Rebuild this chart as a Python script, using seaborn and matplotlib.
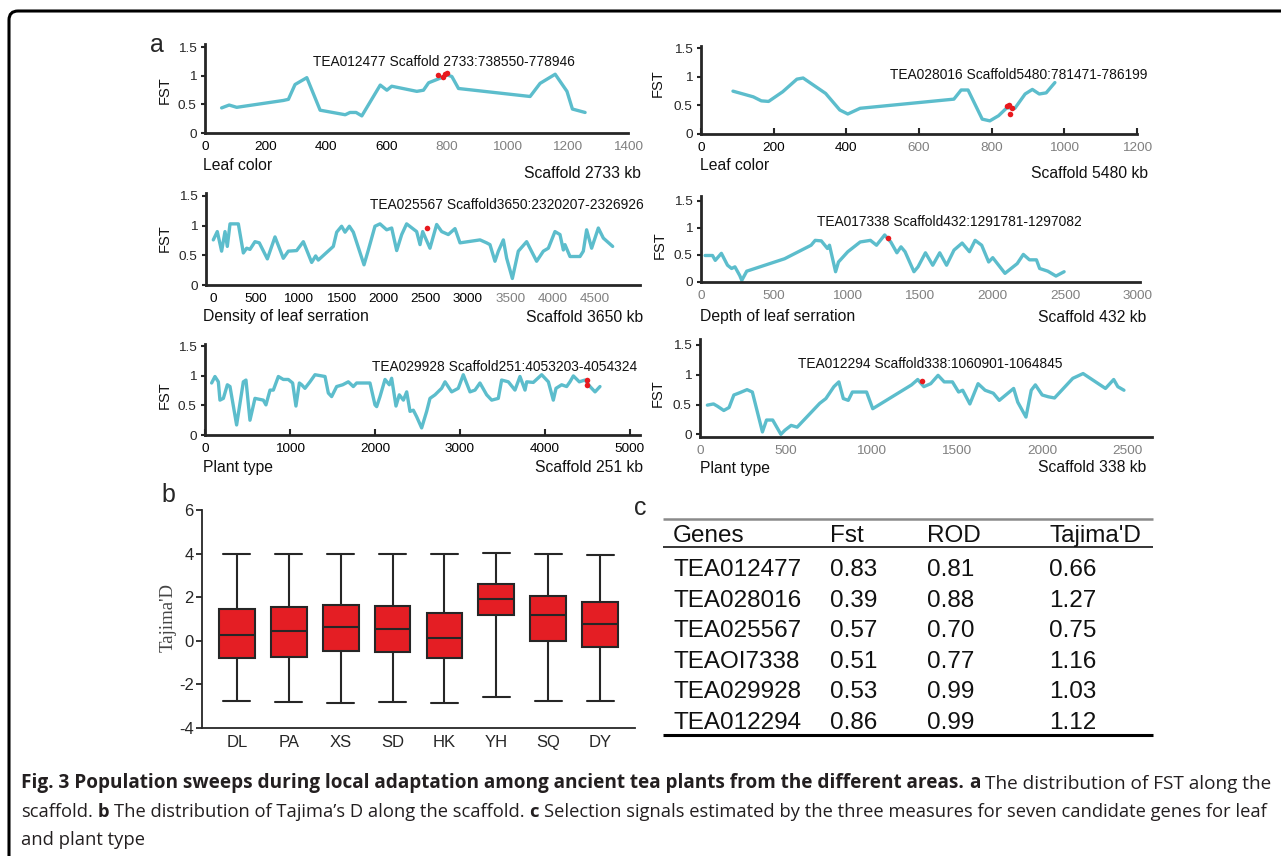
import numpy as np
import pandas as pd
import matplotlib as mpl
mpl.use("Agg")
import matplotlib.pyplot as plt
import seaborn as sns
from matplotlib import font_manager as fm
from matplotlib.patches import FancyBboxPatch
from matplotlib.text import Annotation
from matplotlib.transforms import IdentityTransform

# ---------------- data ----------------
# panel a: FST along six scaffolds (kb, FST), red dots = candidate genes
tl_x = [55, 80, 105, 259, 276, 298, 337, 381, 464, 480, 500, 519, 580, 602, 618, 701, 723, 740,
        778, 800, 817, 839, 1076, 1109, 1159, 1198, 1216, 1258]
tl_y = [0.44, 0.49, 0.45, 0.57, 0.59, 0.85, 0.97, 0.40, 0.32, 0.36, 0.36, 0.30, 0.84, 0.75, 0.82,
        0.73, 0.75, 0.88, 0.96, 1.02, 0.99, 0.78, 0.64, 0.87, 1.03, 0.73, 0.42, 0.36]
tl_dot_x = [770, 789, 795, 800]
tl_dot_y = [1.02, 0.99, 1.03, 1.06]

tr_x = [88, 144, 166, 186, 225, 264, 281, 343, 382, 404, 438, 696, 716, 735, 774, 795, 819, 842,
        864, 892, 912, 931, 950, 974]
tr_y = [0.75, 0.65, 0.58, 0.57, 0.74, 0.96, 0.98, 0.71, 0.42, 0.35, 0.45, 0.61, 0.77, 0.77, 0.26,
        0.23, 0.32, 0.46, 0.45, 0.70, 0.78, 0.70, 0.72, 0.90]
tr_dot_x = [842, 847, 855, 851]
tr_dot_y = [0.49, 0.51, 0.45, 0.35]

ml_x = [0, 47, 98, 138, 165, 197, 295, 354, 393, 432, 491, 542, 637, 727, 825, 884, 982, 1061,
        1159, 1206, 1237, 1414, 1454, 1512, 1552, 1603, 1650, 1776, 1827, 1905, 1964, 2043, 2102,
        2161, 2220, 2278, 2396, 2436, 2467, 2553, 2632, 2691, 2769, 2848, 2907, 3143, 3221, 3260,
        3319, 3359, 3418, 3457, 3524, 3594, 3692, 3810, 3889, 3948, 4026, 4085, 4125, 4144, 4203,
        4321, 4360, 4399, 4458, 4537, 4596, 4706]
ml_y = [0.76, 0.90, 0.57, 0.90, 0.65, 1.03, 1.03, 0.54, 0.62, 0.60, 0.73, 0.71, 0.44, 0.81, 0.45,
        0.57, 0.58, 0.73, 0.38, 0.49, 0.42, 0.65, 0.89, 0.99, 0.89, 0.99, 0.89, 0.34, 0.59, 0.99,
        1.03, 0.93, 0.96, 0.58, 0.85, 1.03, 0.90, 0.68, 0.90, 0.62, 1.02, 0.90, 0.85, 0.95, 0.71,
        0.76, 0.71, 0.68, 0.40, 0.57, 0.76, 0.45, 0.11, 0.57, 0.73, 0.40, 0.57, 0.62, 0.90, 0.85,
        0.59, 0.68, 0.48, 0.48, 0.57, 0.93, 0.62, 0.96, 0.79, 0.65]
ml_dot_x = [2514]
ml_dot_y = [0.96]

mr_x = [28, 79, 98, 140, 182, 210, 233, 266, 280, 314, 574, 756, 784, 826, 868, 882, 924, 944,
        1008, 1093, 1163, 1205, 1261, 1303, 1345, 1373, 1401, 1462, 1490, 1541, 1591, 1639, 1686,
        1737, 1793, 1843, 1882, 1927, 1975, 2003, 2087, 2171, 2213, 2255, 2303, 2325, 2381, 2437,
        2493]
mr_y = [0.49, 0.49, 0.40, 0.53, 0.31, 0.25, 0.28, 0.12, 0.03, 0.20, 0.43, 0.68, 0.77, 0.76, 0.62,
        0.68, 0.19, 0.37, 0.56, 0.74, 0.77, 0.68, 0.87, 0.74, 0.54, 0.65, 0.56, 0.19, 0.28, 0.54,
        0.31, 0.54, 0.31, 0.59, 0.72, 0.56, 0.77, 0.68, 0.37, 0.45, 0.16, 0.34, 0.51, 0.41, 0.41,
        0.25, 0.20, 0.11, 0.19]
mr_dot_x = [1283]
mr_dot_y = [0.82]

bl_x = [78, 117, 157, 176, 216, 263, 294, 372, 451, 482, 529, 588, 686, 717, 765, 804, 863, 921,
        980, 1031, 1070, 1110, 1137, 1176, 1235, 1294, 1412, 1451, 1490, 1549, 1620, 1686, 1745,
        1784, 1941, 2000, 2020, 2059, 2118, 2169, 2196, 2247, 2286, 2334, 2373, 2412, 2451, 2490,
        2549, 2608, 2647, 2706, 2784, 2824, 2902, 2980, 3039, 3118, 3177, 3235, 3314, 3373, 3451,
        3490, 3569, 3647, 3706, 3765, 3785, 3863, 3961, 4040, 4098, 4130, 4196, 4255, 4294, 4334,
        4404, 4471, 4530, 4589, 4647]
bl_y = [0.88, 0.99, 0.90, 0.59, 0.62, 0.85, 0.82, 0.17, 0.90, 0.93, 0.25, 0.62, 0.59, 0.51, 0.76,
        0.76, 0.99, 0.94, 0.94, 0.88, 0.49, 0.88, 0.85, 0.79, 0.90, 1.02, 0.99, 0.71, 0.65, 0.82,
        0.85, 0.90, 0.82, 0.88, 0.88, 0.51, 0.48, 0.65, 0.94, 0.85, 0.96, 0.49, 0.68, 0.59, 0.73,
        0.40, 0.42, 0.31, 0.12, 0.40, 0.62, 0.68, 0.79, 0.90, 0.73, 0.79, 1.02, 0.73, 0.76, 0.88,
        0.68, 0.59, 0.62, 0.93, 0.90, 0.76, 0.99, 0.76, 0.90, 0.89, 1.02, 0.90, 0.59, 0.79, 0.85,
        0.82, 0.90, 1.00, 0.90, 0.93, 0.82, 0.73, 0.82]
bl_dot_x = [4490, 4490]
bl_dot_y = [0.93, 0.85]

br_x = [43, 79, 103, 139, 170, 198, 234, 275, 306, 365, 389, 425, 473, 497, 533, 568, 700, 736,
        783, 812, 838, 867, 891, 974, 1010, 1237, 1273, 1309, 1349, 1392, 1428, 1476, 1512, 1536,
        1578, 1626, 1667, 1715, 1750, 1834, 1858, 1906, 1937, 1961, 2001, 2037, 2073, 2180, 2240,
        2371, 2419, 2443, 2479]
br_y = [0.49, 0.51, 0.47, 0.40, 0.45, 0.66, 0.70, 0.75, 0.71, 0.04, 0.24, 0.24, 0.00, 0.07, 0.15,
        0.12, 0.52, 0.60, 0.80, 0.88, 0.60, 0.57, 0.71, 0.71, 0.43, 0.83, 0.92, 0.80, 0.85, 0.99,
        0.88, 0.88, 0.71, 0.74, 0.51, 0.85, 0.74, 0.69, 0.57, 0.77, 0.54, 0.29, 0.74, 0.83, 0.66,
        0.63, 0.61, 0.94, 1.02, 0.77, 0.92, 0.80, 0.74]
br_dot_x = [1297]
br_dot_y = [0.90]

# panel b: Tajima's D five-number summaries per population
pops = ["DL", "PA", "XS", "SD", "HK", "YH", "SQ", "DY"]
d_low = [-2.77, -2.81, -2.84, -2.80, -2.84, -2.57, -2.75, -2.78]
d_q1 = [-0.78, -0.75, -0.45, -0.51, -0.78, 1.20, 0.01, -0.29]
d_med = [0.28, 0.46, 0.64, 0.54, 0.12, 1.94, 1.18, 0.78]
d_q3 = [1.47, 1.57, 1.63, 1.60, 1.28, 2.61, 2.07, 1.77]
d_high = [4.00, 4.00, 4.00, 3.98, 4.00, 4.03, 4.00, 3.95]

# panel c: table
tab_head = ["Genes", "Fst", "ROD", "Tajima'D"]
genes = ["TEA012477", "TEA028016", "TEA025567", "TEAOI7338", "TEA029928", "TEA012294"]
fst_vals = [0.83, 0.39, 0.57, 0.51, 0.53, 0.86]
rod_vals = [0.81, 0.88, 0.70, 0.77, 0.99, 0.99]
taj_vals = [0.66, 1.27, 0.75, 1.16, 1.03, 1.12]

# ---------------- style ----------------
W, H = 1281, 856
sns.set_style("ticks")
names = {f.name for f in fm.fontManager.ttflist}
CAPF = "Open Sans" if "Open Sans" in names else "DejaVu Sans"
plt.rcParams["font.family"] = ["Liberation Sans", "DejaVu Sans"]
plt.rcParams["axes.unicode_minus"] = False

LINE = "#5cbdcc"
DOT = "#e8191e"
BOXRED = "#e41e24"
GRAY = "#808080"

fig = plt.figure(figsize=(W / 100, H / 100), dpi=100)
fig.patch.set_facecolor("white")


def ax_px(x0, y0, x1, y1):
    return fig.add_axes([x0 / W, 1 - y1 / H, (x1 - x0) / W, (y1 - y0) / H])


def tx(x, y, s, **kw):
    return fig.text(x / W, 1 - y / H, s, **kw)


def fst_panel(box, x, y, dx, dy, xlim, ylim, ticks, gray_from, tlen):
    ax = ax_px(*box)
    sns.lineplot(x=x, y=y, ax=ax, color=LINE, lw=2.4, sort=False, estimator=None)
    sns.scatterplot(x=dx, y=dy, ax=ax, color=DOT, s=16, linewidth=0, zorder=5)
    ax.set_xlim(xlim)
    ax.set_ylim(ylim)
    ax.set_xticks(ticks)
    ax.set_xticklabels([str(t) for t in ticks])
    ax.set_yticks([0, 0.5, 1, 1.5])
    ax.set_yticklabels(["0", "0.5", "1", "1.5"])
    for i, lab in enumerate(ax.get_xticklabels()):
        lab.set_color(GRAY if i >= gray_from else "black")
    ax.set_xlabel("")
    ax.set_ylabel("")
    for s in ["top", "right"]:
        ax.spines[s].set_visible(False)
    for s in ["left", "bottom"]:
        ax.spines[s].set_linewidth(2)
    ax.tick_params(axis="x", direction="in", length=tlen, width=1.5, labelsize=9.7, pad=6)
    ax.tick_params(axis="y", direction="out", length=3, width=1.5, labelsize=9.7, pad=3)
    return ax


fst_panel((205, 44, 628, 133), tl_x, tl_y, tl_dot_x, tl_dot_y, (0, 1400), (0, 1.56),
          list(range(0, 1401, 200)), 4, 0)
fst_panel((701, 46, 1137, 134), tr_x, tr_y, tr_dot_x, tr_dot_y, (0, 1200), (0, 1.54),
          list(range(0, 1201, 200)), 3, 4)
fst_panel((206, 193, 640, 285), ml_x, ml_y, ml_dot_x, ml_dot_y, (-86, 5028), (0, 1.55),
          list(range(0, 4501, 500)), 7, 0)
fst_panel((701, 196, 1140, 282), mr_x, mr_y, mr_dot_x, mr_dot_y, (0, 3014), (0, 1.59),
          list(range(0, 3001, 500)), 0, 0)
fst_panel((205, 344, 640, 435), bl_x, bl_y, bl_dot_x, bl_dot_y, (0, 5118), (0, 1.54),
          list(range(0, 5001, 1000)), 99, 4)
fst_panel((700, 339, 1152, 437), br_x, br_y, br_dot_x, br_dot_y, (0, 2643), (-0.045, 1.6),
          list(range(0, 2501, 500)), 0, 0)

# panel a texts: trait xy, scaffold xy, note xy, FST xy
for (tx_, ty_, trait, sx, sy, scaf, nx, ny, note, fx, fy) in [
    (203, 166, "Leaf color", 641, 173, "Scaffold 2733 kb", 444, 62,
     "TEA012477 Scaffold 2733:738550-778946", 165, 90),
    (700, 166, "Leaf color", 1148, 173, "Scaffold 5480 kb", 1019, 75,
     "TEA028016 Scaffold5480:781471-786199", 658, 83),
    (203, 317, "Density of leaf serration", 643, 317, "Scaffold 3650 kb", 507, 205,
     "TEA025567 Scaffold3650:2320207-2326926", 165, 238),
    (700, 317, "Depth of leaf serration", 1146, 317, "Scaffold 432 kb", 949, 222,
     "TEA017338 Scaffold432:1291781-1297082", 660, 245),
    (203, 467, "Plant type", 643, 467, "Scaffold 251 kb", 505, 367,
     "TEA029928 Scaffold251:4053203-4054324", 165, 395),
    (700, 468, "Plant type", 1146, 468, "Scaffold 338 kb", 930, 364,
     "TEA012294 Scaffold338:1060901-1064845", 658, 393),
]:
    tx(tx_, ty_, trait, ha="left", va="center", fontsize=11.3, color="#111111")
    tx(sx, sy, scaf, ha="right", va="center", fontsize=11.3, color="#111111")
    tx(nx, ny, note, ha="center", va="center", fontsize=9.9, color="#111111")
    tx(fx, fy, "FST", ha="center", va="center", rotation=90, fontsize=10.5, color="#111111")

# ---------------- panel b ----------------
rows = []
for i, p in enumerate(pops):
    for v in (d_low[i], d_q1[i], d_med[i], d_q3[i], d_high[i]):
        rows.append({"pop": p, "val": v})
df_box = pd.DataFrame(rows)

axb = ax_px(202, 510, 635, 728)
sns.boxplot(data=df_box, x="pop", y="val", order=pops, whis=(0, 100), width=0.69,
            color=BOXRED, linecolor="#262626", linewidth=1.5, saturation=1, ax=axb,
            capwidths=0.52)
axb.set_xlim(-0.67, 7.67)
axb.set_ylim(-4, 6)
axb.set_yticks([-4, -2, 0, 2, 4, 6])
axb.set_xlabel("")
axb.set_ylabel("")
for s in ["top", "right"]:
    axb.spines[s].set_visible(False)
for s in ["left", "bottom"]:
    axb.spines[s].set_linewidth(1.3)
axb.tick_params(axis="x", length=0, labelsize=12, pad=5)
axb.tick_params(axis="y", direction="out", length=4, width=1.3, labelsize=12, pad=2)
tx(168, 617, "Tajima'D", rotation=90, ha="center", va="center", fontsize=13.5,
   family=["Liberation Serif", "DejaVu Serif"], color="#444444")

# ---------------- panel c ----------------
tab = ax_px(640, 505, 1170, 745)
tab.axis("off")
tab.set_xlim(640, 1170)
tab.set_ylim(745, 505)
tab.plot([663, 1153], [519, 519], color="#8a8a8a", lw=1.8, solid_capstyle="butt")
tab.plot([663, 1153], [547, 547], color="black", lw=1.1, solid_capstyle="butt")
tab.plot([663, 1153], [735, 735], color="black", lw=2.2, solid_capstyle="butt")
cols = [673, 830, 927, 1049]
tkw = dict(fontsize=17.5, va="center", ha="left", color="#111111")
for c, h in zip(cols, tab_head):
    tab.text(c, 536, h, **tkw)
for i, g in enumerate(genes):
    yy = 570 + i * 30.6
    for c, s in zip(cols, [g, f"{fst_vals[i]:.2f}", f"{rod_vals[i]:.2f}", f"{taj_vals[i]:.2f}"]):
        tab.text(c, yy, s, **tkw)

# panel letters
tx(157, 45, "a", fontsize=18, ha="center", va="center")
tx(168, 495, "b", fontsize=18, ha="center", va="center")
tx(640, 508, "c", fontsize=18, ha="center", va="center")

# ---------------- caption ----------------
cap_lines = [
    [("Fig. 3 Population sweeps during local adaptation among ancient tea plants from the different areas.", "bold"),
     ("a", "bold"), ("The distribution of FST along the", "normal")],
    [("scaffold.", "normal"), ("b", "bold"),
     ("The distribution of Tajima\u2019s D along the scaffold.", "normal"), ("c", "bold"),
     ("Selection signals estimated by the three measures for seven candidate genes for leaf", "normal")],
    [("and plant type", "normal")],
]
cap_y = [783, 812, 840]
cap_fs = 12.5
CAPC = "#231f20"
cap_arts = []
for segs, yy in zip(cap_lines, cap_y):
    prev = None
    row = []
    for s, wt in segs:
        if prev is None:
            t = tx(21, yy, s, fontsize=cap_fs, fontweight=wt, family=[CAPF, "DejaVu Sans"],
                   va="center", ha="left", color=CAPC)
        else:
            t = Annotation(s, xy=(1, 0), xycoords=prev, xytext=(0.26 * cap_fs, 0),
                           textcoords="offset points", va="bottom", ha="left",
                           fontsize=cap_fs, fontweight=wt, family=[CAPF, "DejaVu Sans"], color=CAPC)
            fig.add_artist(t)
        row.append(t)
        prev = t
    cap_arts.append(row)

# fit the two full lines to the text width
fig.canvas.draw()
r = fig.canvas.get_renderer()
scales = []
for row in cap_arts[:2]:
    a = row[0].get_window_extent(r)
    b = row[-1].get_window_extent(r)
    scales.append(1253 / (b.x1 - a.x0))
scales.append(scales[1])
for row, sc in zip(cap_arts, scales):
    for t in row:
        t.set_fontsize(cap_fs * sc)
        if isinstance(t, Annotation):
            t.xyann = (0.26 * cap_fs * sc, 0)

# frame: top + left edge with rounded corner
frame = FancyBboxPatch((9, -40), 1400, H - 11 + 40, boxstyle="round,pad=0,rounding_size=9",
                       transform=IdentityTransform(), fill=False, lw=2.2, ec="black")
fig.add_artist(frame)

fig.savefig("out.png", dpi=100, facecolor="white")
